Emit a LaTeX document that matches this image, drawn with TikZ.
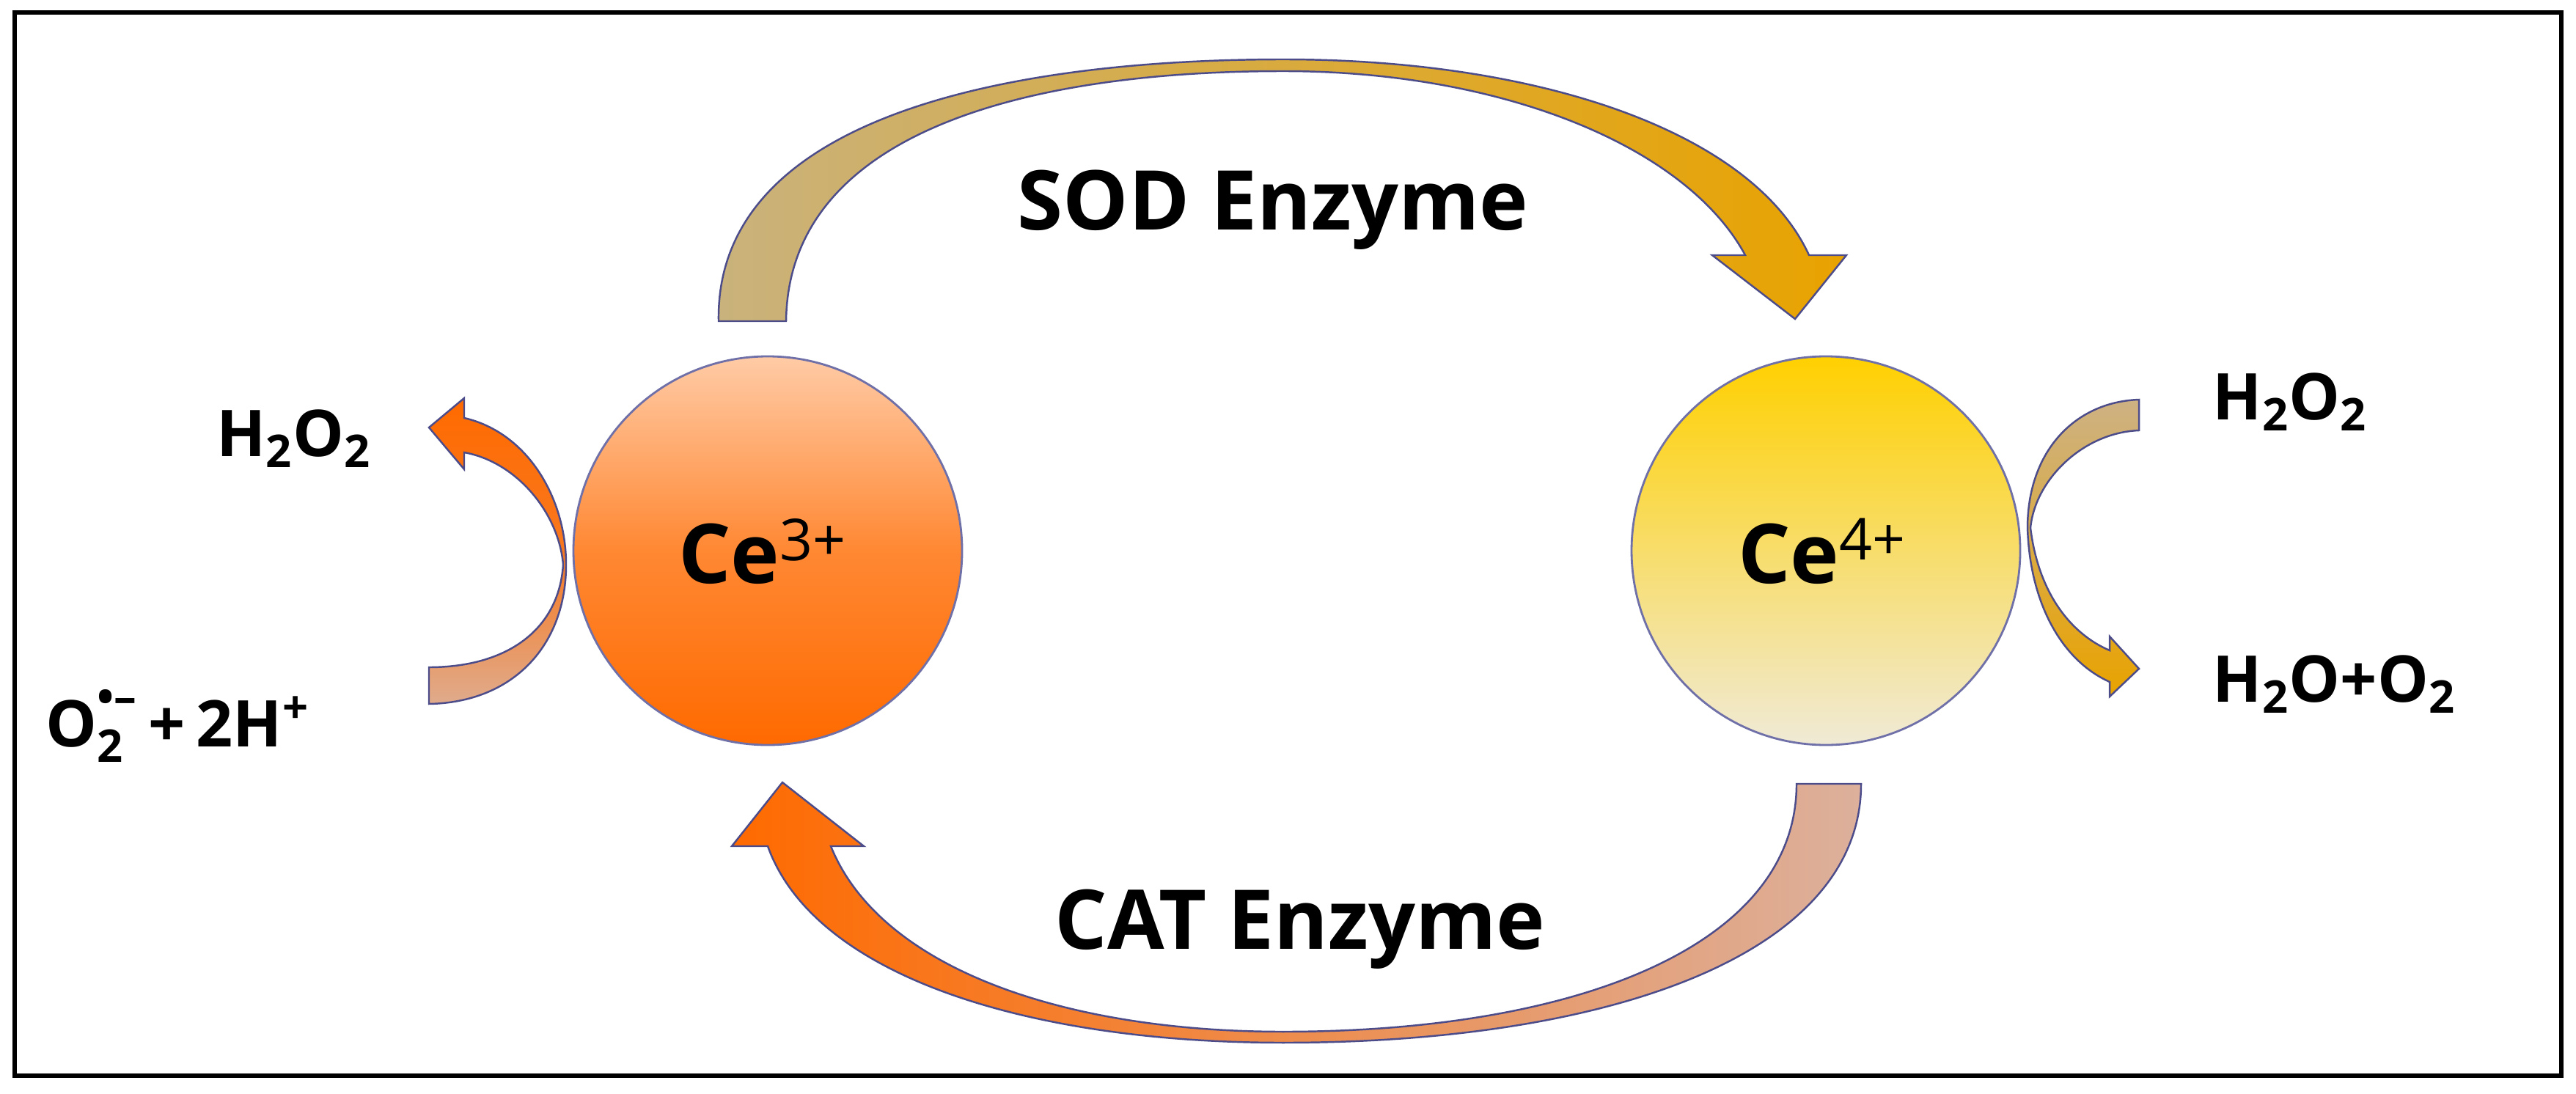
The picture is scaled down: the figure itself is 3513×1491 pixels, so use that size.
\documentclass[tikz,border=0pt]{standalone}
\usepackage{fontspec}
\setmainfont{Open Sans}
\begin{document}
\begin{tikzpicture}[x=0.01cm,y=-0.01cm,
  edge/.style={draw=black!40!blue!40!gray, line width=0.7pt, line join=miter},
  big/.style={font=\bfseries\fontsize{32}{36}\selectfont},
  lab/.style={font=\bfseries\fontsize{25}{28}\selectfont, inner sep=0pt}]
\definecolor{tanA}{HTML}{C9B27C}
\definecolor{goldA}{HTML}{E9A300}
\definecolor{pinkA}{HTML}{DCB09C}
\definecolor{orgA}{HTML}{FF6A00}
\useasboundingbox (0,0) rectangle (3513,1491);
\fill[white] (0,0) rectangle (3513,1491);
\draw[line width=1.8pt] (20,17) rectangle (3493,1467);
% circles
\shadedraw[top color=orgA!35!white, bottom color=orgA, middle color=orgA!80!white, draw=black!30!blue!40!gray!80, line width=0.8pt] (1047,751) circle (265);
\shadedraw[top color={rgb,255:red,255;green,208;blue,0}, bottom color={rgb,255:red,240;green,234;blue,214}, draw=black!30!blue!40!gray!80, line width=0.8pt] (2490,751) circle (265);
\node[font=\bfseries\fontsize{32}{36}\selectfont] (ce3) at (1040,752) {Ce\textsuperscript{\mdseries 3+}};
\node[font=\bfseries\fontsize{32}{36}\selectfont] (ce4) at (2485,752) {Ce\textsuperscript{\mdseries 4+}};
% SOD arrow
\shadedraw[left color=tanA, right color=goldA, edge]
 (980,438) .. controls (975,150) and (1400,81) .. (1750,81)
 .. controls (2100,81) and (2390,180) .. (2467,348) -- (2518,348) -- (2448,435) -- (2335,348) -- (2380,348)
 .. controls (2300,200) and (2050,97) .. (1750,97)
 .. controls (1400,97) and (1075,180) .. (1072,438) -- cycle;
% CAT arrow
\shadedraw[left color=orgA, right color=pinkA, edge]
 (2538,1069) .. controls (2538,1300) and (2200,1422) .. (1750,1422)
 .. controls (1400,1422) and (1110,1330) .. (1047,1154) -- (998,1154) -- (1067,1067) -- (1178,1154) -- (1133,1154)
 .. controls (1200,1320) and (1450,1407) .. (1750,1407)
 .. controls (2150,1407) and (2450,1290) .. (2450,1069) -- cycle;
% left small arrow
\shadedraw[top color=orgA, bottom color=pinkA!90!orange, middle color=orgA!80!pinkA, edge]
 (585,960) .. controls (700,958) and (772,880) .. (772,770)
 .. controls (772,680) and (720,590) .. (633,570) -- (633,543) -- (585,583) -- (633,640) -- (633,617)
 .. controls (705,630) and (762,700) .. (768,770)
 .. controls (762,860) and (690,910) .. (585,910) -- cycle;
% right small arrow
\shadedraw[top color=tanA!80!pinkA, bottom color=goldA, edge]
 (2917,545) .. controls (2830,548) and (2765,615) .. (2765,720)
 .. controls (2768,820) and (2810,900) .. (2877,930) -- (2877,950) -- (2917,912) -- (2877,868) -- (2877,887)
 .. controls (2825,865) and (2780,810) .. (2769,720)
 .. controls (2775,655) and (2840,590) .. (2917,587) -- cycle;
% labels
\node[big] (sod) at (1736,286) {SOD Enzyme};
\node[big] (cat) at (1773,1267) {CAT Enzyme};
\node[lab, anchor=west] (l1) at (295,598) {H\textsubscript{2}O\textsubscript{2}};
\node[lab, anchor=west] (l2) at (62,990) {O\rlap{\raisebox{-0.15ex}{\textsubscript{2}}}\raisebox{0.3ex}{\textsuperscript{\textbullet–}}\,+\,2H\textsuperscript{+}};
\node[lab, anchor=west] (r1) at (3017,548) {H\textsubscript{2}O\textsubscript{2}};
\node[lab, anchor=west] (r2) at (3017,933) {H\textsubscript{2}O+O\textsubscript{2}};
\end{tikzpicture}
\end{document}
